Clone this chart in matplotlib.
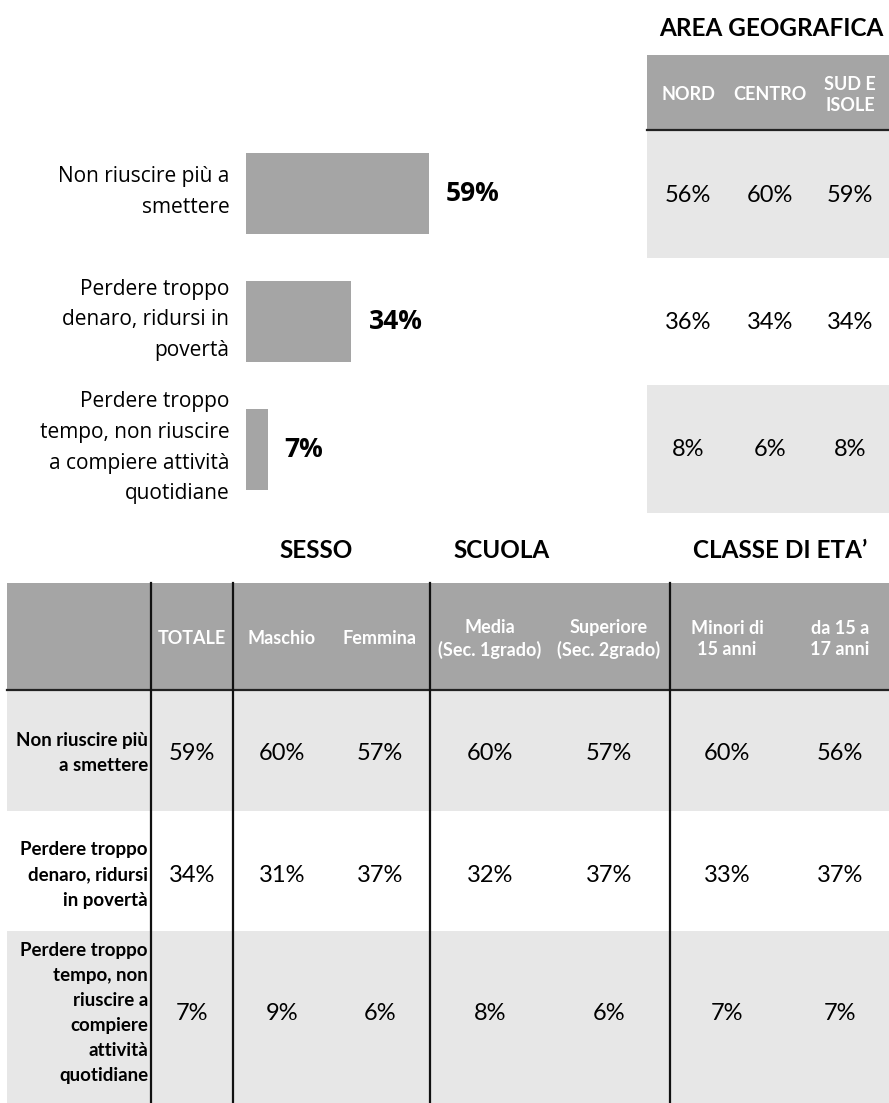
import numpy as np
import matplotlib.pyplot as plt
from matplotlib.patches import Rectangle
from matplotlib.transforms import ScaledTranslation

# dati: paure legate al gioco
motivi = ["Non riuscire più a\nsmettere",
          "Perdere troppo\ndenaro, ridursi in\npovertà",
          "Perdere troppo\ntempo, non riuscire\na compiere attività\nquotidiane"]
totale = [59, 34, 7]

aree = ["NORD", "CENTRO", "SUD E\nISOLE"]
nord = [56, 36, 8]
centro = [60, 34, 6]
sud_isole = [59, 34, 8]

righe = ["Non riuscire più\na smettere",
         "Perdere troppo\ndenaro, ridursi\nin povertà",
         "Perdere troppo\ntempo, non\nriuscire a\ncompiere\nattività\nquotidiane"]
colonne = ["TOTALE", "Maschio", "Femmina", "Media\n(Sec. 1grado)", "Superiore\n(Sec. 2grado)",
           "Minori di\n15 anni", "da 15 a\n17 anni"]
maschio = [60, 31, 9]
femmina = [57, 37, 6]
media = [60, 32, 8]
superiore = [57, 37, 6]
minori15 = [60, 33, 7]
da15a17 = [56, 37, 7]

gruppi = ["SESSO", "SCUOLA", "CLASSE DI ETA’"]

W, H = 889, 1103
GRIGIO = "#a5a5a5"
CHIARO = "#e7e7e7"
FONT = ["Lato", "DejaVu Sans"]
FONT_TOP = ["Open Sans", "DejaVu Sans"]

fig = plt.figure(figsize=(W / 100, H / 100), dpi=100)
fig.patch.set_facecolor("white")

# livello in pixel per le tabelle
tab = fig.add_axes([0, 0, 1, 1])
tab.set_xlim(0, W)
tab.set_ylim(H, 0)
tab.axis("off")

# ---- tabella area geografica ----
x0, x1 = 647, W
tab.add_patch(Rectangle((x0, 55), x1 - x0, 75, color=GRIGIO, lw=0))
righe_top = [(130, 258, CHIARO), (258, 385, "white"), (385, 513, CHIARO)]
for ya, yb, c in righe_top:
    tab.add_patch(Rectangle((x0, ya), x1 - x0, yb - ya, color=c, lw=0))
tab.plot([x0, x1], [130, 130], color="#222222", lw=1.6)
tab.text(771, 28, "AREA GEOGRAFICA", ha="center", va="center", fontsize=17.5,
         fontweight="bold", family=FONT)

cx_aree = [688, 770, 850]
for cx, nome in zip(cx_aree, aree):
    tab.text(cx, 95, nome, ha="center", va="center", fontsize=13, fontweight="bold",
             color="white", family=FONT, linespacing=1.35)
for cx, serie in zip(cx_aree, [nord, centro, sud_isole]):
    for (ya, yb, _), v in zip(righe_top, serie):
        tab.text(cx, (ya + yb) / 2 + 1, f"{v}%", ha="center", va="center", fontsize=17,
                 family=FONT)

# ---- tabella in basso ----
bx0 = 7
top, head = 583, 690
righe_bot = [(690, 811, CHIARO), (811, 931, "white"), (931, H, CHIARO)]
y_val = [753, 875, 1013]
tab.add_patch(Rectangle((bx0, top), W - bx0, head - top, color=GRIGIO, lw=0))
for ya, yb, c in righe_bot:
    tab.add_patch(Rectangle((bx0, ya), W - bx0, yb - ya, color=c, lw=0))
tab.plot([bx0, W], [head, head], color="#222222", lw=1.6)
for xv in [151, 233, 430, 670]:
    tab.plot([xv, xv], [top, H], color="#111111", lw=1.6)

for cx, nome in zip([316, 502, 780], gruppi):
    tab.text(cx, 551, nome, ha="center", va="center", fontsize=17.5, fontweight="bold",
             family=FONT)

cx_col = [192, 282, 380, 490, 609, 727, 840]
for cx, nome in zip(cx_col, colonne):
    tab.text(cx, 639, nome, ha="center", va="center", fontsize=13, fontweight="bold",
             color="white", family=FONT, linespacing=1.35)

serie_col = [totale, maschio, femmina, media, superiore, minori15, da15a17]
for cx, serie in zip(cx_col, serie_col):
    for yc, v in zip(y_val, serie):
        tab.text(cx, yc, f"{v}%", ha="center", va="center", fontsize=17, family=FONT)

for yc, nome in zip(y_val, righe):
    tab.text(148, yc, nome, ha="right", va="center", fontsize=13.5,
             fontweight="bold", family=FONT, linespacing=1.58)

# ---- barre del totale ----
ax = fig.add_axes([246 / W, (H - 513.5) / H, 310 / W, 384 / H])
ax.patch.set_visible(False)
y = np.arange(len(totale))
ax.barh(y, totale, height=0.63, color=GRIGIO)
ax.set_xlim(0, 100)
ax.set_ylim(len(totale) - 0.5, -0.5)
for yi, v in zip(y, totale):
    ax.text(v + 5.5, yi, f"{v}%", va="center", ha="left", fontsize=19,
            fontweight="bold", family=FONT_TOP)
ax.set_yticks(y)
ax.set_yticklabels(motivi, fontsize=15, family=FONT_TOP, linespacing=1.6)
ax.tick_params(axis="y", length=0, pad=12)
# etichette un po' più in alto rispetto al centro delle barre
su = ScaledTranslation(0, 0.09, fig.dpi_scale_trans)
for lab in ax.get_yticklabels():
    lab.set_transform(lab.get_transform() + su)
ax.set_xticks([])
for s in ax.spines.values():
    s.set_visible(False)

fig.savefig("out.png", dpi=100)
